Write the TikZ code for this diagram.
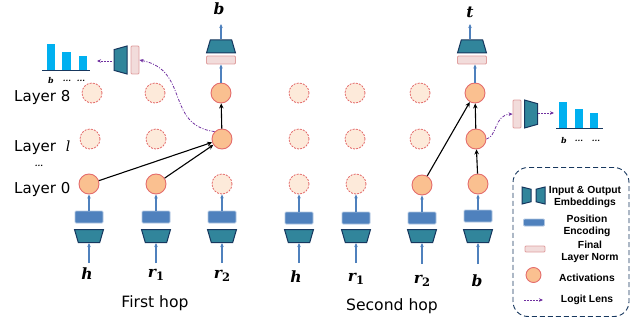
\documentclass[tikz,border=0pt]{standalone}
\usepackage{amsmath}
\usepackage{fontspec}
\setmainfont{DejaVu Sans}
\newfontfamily\legendfont{Liberation Sans}
\newfontfamily\tokenfont{DejaVu Serif}
\usetikzlibrary{shapes.geometric,arrows.meta}
\definecolor{embfill}{HTML}{31859B}
\definecolor{embline}{HTML}{17375E}
\definecolor{posfill}{HTML}{4F81BD}
\definecolor{normfill}{HTML}{F2DCDB}
\definecolor{normline}{HTML}{E0A0A0}
\definecolor{actfill}{HTML}{FAC090}
\definecolor{actline}{HTML}{E46C6C}
\definecolor{idlefill}{HTML}{FDEADA}
\definecolor{lenscolor}{HTML}{7030A0}
\definecolor{barfill}{HTML}{00B0F0}
\newcommand{\tokensub}[2]{#1\raisebox{-3pt}{\upshape\fontsize{11.5}{11.5}\selectfont #2}}
\tikzset{
  embin/.style={draw=embline,fill=embfill,line width=1pt,shape=trapezium,trapezium angle=80,trapezium stretches=true,inner sep=1pt,minimum width=29pt,minimum height=13pt,shape border rotate=180},
  embout/.style={embin,shape border rotate=0},
  embside/.style={draw=embline,fill=embfill,line width=1pt,shape=trapezium,trapezium angle=80,trapezium stretches=true,inner sep=1pt,minimum width=28pt,minimum height=13pt},
  posbox/.style={draw=posfill!45,fill=posfill,line width=0.9pt,rounded corners=1pt,inner sep=0pt,minimum width=28pt,minimum height=12pt},
  normbox/.style={draw=normline,fill=normfill,line width=0.9pt,rounded corners=1pt,inner sep=0pt,minimum width=29pt,minimum height=8pt},
  normside/.style={normbox,minimum width=8pt,minimum height=28pt},
  actnode/.style={circle,draw=actline,fill=actfill,line width=0.9pt,inner sep=0pt,minimum size=20pt},
  idlenode/.style={circle,draw=actline,fill=idlefill,dash pattern=on 2pt off 1.2pt,line width=0.8pt,inner sep=0pt,minimum size=20pt},
  barbox/.style={fill=barfill,inner sep=0pt,minimum width=8.5pt,anchor=south},
  feedline/.style={-{Stealth[length=4pt,width=3.5pt]},draw=posfill,line width=1.1pt},
  hopline/.style={-{Stealth[length=5pt,width=4.5pt]},black,line width=1.1pt},
  lensarc/.style={-{Stealth[length=4pt,width=3.5pt]},draw=lenscolor,line width=0.8pt,dash pattern=on 3pt off 1.5pt on 1pt off 1.5pt},
  lensdash/.style={-{Stealth[length=4pt,width=3.5pt]},draw=lenscolor,line width=0.9pt,dash pattern=on 2pt off 1pt},
  tokenlabel/.style={inner sep=0pt,font=\tokenfont\bfseries\itshape\fontsize{15.5}{15.5}\selectfont},
  ticklabel/.style={inner sep=0pt,font=\tokenfont\bfseries\itshape\fontsize{8}{8}\selectfont},
  layerlabel/.style={inner sep=0pt,anchor=base west,font=\fontsize{15}{15}\selectfont},
  hoplabel/.style={inner sep=0pt,anchor=base,font=\fontsize{15.6}{15.6}\selectfont},
  legendtext/.style={inner sep=0pt,align=center,font=\legendfont\bfseries\fontsize{10.3}{11.8}\selectfont}
}
\begin{document}
\begin{tikzpicture}[x=1pt,y=-1pt]
  \useasboundingbox (0,0) rectangle (637,321);

  \node[layerlabel] (lab8) at (14,101) {Layer 8};
  \node[layerlabel] (labl) at (14,151) {Layer};
  \node[inner sep=0pt,font=\tokenfont\itshape\fontsize{14}{14}\selectfont] (labll) at (68,146) {l};
  \node[ticklabel] (labdots) at (39,166) {...};
  \node[layerlabel] (lab0) at (14,193) {Layer 0};

  \node[idlenode] (aA8) at (92,93) {};
  \node[idlenode] (aB8) at (155,93) {};
  \node[actnode] (aC8) at (221,93) {};
  \node[idlenode] (aD8) at (299,93) {};
  \node[idlenode] (aE8) at (355,93) {};
  \node[idlenode] (aF8) at (420,93) {};
  \node[actnode] (aG8) at (475,93) {};

  \node[idlenode] (aAl) at (90,139) {};
  \node[idlenode] (aBl) at (156,139) {};
  \node[actnode] (aCl) at (222,139) {};
  \node[idlenode] (aDl) at (299,139) {};
  \node[idlenode] (aEl) at (355,139) {};
  \node[idlenode] (aFl) at (420,139) {};
  \node[actnode] (aGl) at (476,139) {};

  \node[actnode] (aA0) at (89,184) {};
  \node[actnode] (aB0) at (156,184) {};
  \node[idlenode] (aC0) at (222,184) {};
  \node[idlenode] (aD0) at (299,184) {};
  \node[idlenode] (aE0) at (356,184) {};
  \node[actnode] (aF0) at (422,185) {};
  \node[actnode] (aG0) at (478,184) {};

  \node[posbox] (pA) at (89,217) {};
  \node[posbox] (pB) at (156,217) {};
  \node[posbox] (pC) at (222,217) {};
  \node[posbox] (pD) at (299,218) {};
  \node[posbox] (pE) at (356,218) {};
  \node[posbox] (pF) at (422,218) {};
  \node[posbox] (pG) at (478,216) {};

  \node[embin] (eA) at (89,236) {};
  \node[embin] (eB) at (156,236) {};
  \node[embin] (eC) at (222,236) {};
  \node[embin] (eD) at (299,236) {};
  \node[embin] (eE) at (356,236) {};
  \node[embin] (eF) at (422,236) {};
  \node[embin] (eG) at (478,236) {};

  \node[tokenlabel] (tA) at (87,274) {h};
  \node[tokenlabel] (tB) at (156,275) {\tokensub{r}{1}};
  \node[tokenlabel] (tC) at (222,276) {\tokensub{r}{2}};
  \node[tokenlabel] (tD) at (296,277) {h};
  \node[tokenlabel] (tE) at (356,279) {\tokensub{r}{1}};
  \node[tokenlabel] (tF) at (422,281) {\tokensub{r}{2}};
  \node[tokenlabel] (tG) at (477,281) {b};

  \coordinate (iA) at (89,263);
  \coordinate (iB) at (156,263);
  \coordinate (iC) at (222,263);
  \coordinate (iD) at (299,263);
  \coordinate (iE) at (356,263);
  \coordinate (iF) at (422,264);
  \coordinate (iG) at (478,264);

  \draw[feedline] (iA) -- (eA);
  \draw[feedline] (iB) -- (eB);
  \draw[feedline] (iC) -- (eC);
  \draw[feedline] (iD) -- (eD);
  \draw[feedline] (iE) -- (eE);
  \draw[feedline] (iF) -- (eF);
  \draw[feedline] (iG) -- (eG);
  \draw[feedline] (pA) -- (aA0);
  \draw[feedline] (pB) -- (aB0);
  \draw[feedline] (pC) -- (aC0);
  \draw[feedline] (pD) -- (aD0);
  \draw[feedline] (pE) -- (aE0);
  \draw[feedline] (pF) -- (aF0);
  \draw[feedline] (pG) -- (aG0);

  \draw[hopline] (aA0) -- (aCl);
  \draw[hopline] (aB0) -- (aCl);
  \draw[hopline] (aCl) -- (aC8);
  \draw[hopline] (aF0) -- (aG8);
  \draw[hopline] (aGl) -- (aG8);
  \draw[hopline] (aG0) -- (aGl);

  \node[normbox] (nC) at (221,60) {};
  \node[embout] (oC) at (221,46.5) {};
  \coordinate (fC) at (221,24);
  \node[tokenlabel] (wC) at (219,9) {b};
  \draw[feedline] (aC8) -- (nC);
  \draw[feedline] (oC) -- (fC);

  \node[normbox] (nG) at (472,60) {};
  \node[embout] (oG) at (472,46.5) {};
  \coordinate (fG) at (470,24);
  \node[tokenlabel] (wG) at (470,12) {t};
  \draw[feedline] (aG8.north) -- (aG8.north |- nG.south);
  \draw[feedline] (oG.north -| fG) -- (fG);

  \node[normside] (nL) at (135,60) {};
  \node[embside,shape border rotate=90] (oL) at (120.5,60) {};
  \node[barbox,minimum height=26pt] (bL1) at (51,70) {};
  \node[barbox,minimum height=18pt] (bL2) at (66.5,70) {};
  \node[barbox,minimum height=14pt] (bL3) at (83,70) {};
  \coordinate (bLa) at (42,70.5);
  \coordinate (bLb) at (90,70.5);
  \coordinate (lLa) at (112,61);
  \coordinate (lLb) at (97,61);
  \draw[draw=embline,line width=0.8pt] (bLa) -- (bLb);
  \draw[lensdash] (lLa) -- (lLb);
  \node[ticklabel] (xL1) at (51,81) {b};
  \node[ticklabel] (xL2) at (67,81) {...};
  \node[ticklabel] (xL3) at (81,81) {...};
  \draw[lensarc] (aCl.north west) .. controls (165,125) and (190,70) .. (nL.east);

  \node[normside] (nR) at (517,114) {};
  \node[embside,shape border rotate=270] (oR) at (531,114) {};
  \node[barbox,minimum height=26pt] (bR1) at (563,128) {};
  \node[barbox,minimum height=19pt] (bR2) at (579,128) {};
  \node[barbox,minimum height=15pt] (bR3) at (594,128) {};
  \coordinate (bRa) at (556,128.5);
  \coordinate (bRb) at (603,128.5);
  \coordinate (lRa) at (538,113);
  \coordinate (lRb) at (554,113);
  \draw[draw=embline,line width=0.8pt] (bRa) -- (bRb);
  \draw[lensdash] (lRa) -- (lRb);
  \node[ticklabel] (xR1) at (564,141) {b};
  \node[ticklabel] (xR2) at (579,141) {...};
  \node[ticklabel] (xR3) at (596,141) {...};
  \draw[lensarc] (aGl.east) .. controls (497,137) and (494,115) .. (nR.west);

  \node[hoplabel] (first) at (155,307) {First hop};
  \node[hoplabel] (second) at (392,310) {Second hop};

  \node[draw=embline,dash pattern=on 5pt off 3pt,line width=0.9pt,rounded corners=15pt,inner sep=0pt,minimum width=116pt,minimum height=149pt] (legend) at (571,242) {};
  \node[embside,shape border rotate=270,minimum width=17pt,minimum height=9pt] (lgA) at (526.5,195.5) {};
  \node[embside,shape border rotate=90,minimum width=17pt,minimum height=9pt] (lgB) at (540.5,195.5) {};
  \node[legendtext] (lgAt) at (585,197) {Input \& Output\\Embeddings};
  \node[posbox,minimum width=21pt,minimum height=7pt] (lgC) at (534,222.5) {};
  \node[legendtext] (lgCt) at (587,226) {Position\\Encoding};
  \node[normbox,minimum width=20pt,minimum height=6pt] (lgD) at (535,249) {};
  \node[legendtext] (lgDt) at (590,251.5) {Final\\Layer Norm};
  \node[actnode,minimum size=15pt] (lgE) at (533.5,275) {};
  \node[legendtext] (lgEt) at (587,278) {Activations};
  \coordinate (lgFa) at (524,300);
  \coordinate (lgFb) at (543,300);
  \draw[lensdash] (lgFa) -- (lgFb);
  \node[legendtext] (lgFt) at (587,300) {Logit Lens};
\end{tikzpicture}
\end{document}
